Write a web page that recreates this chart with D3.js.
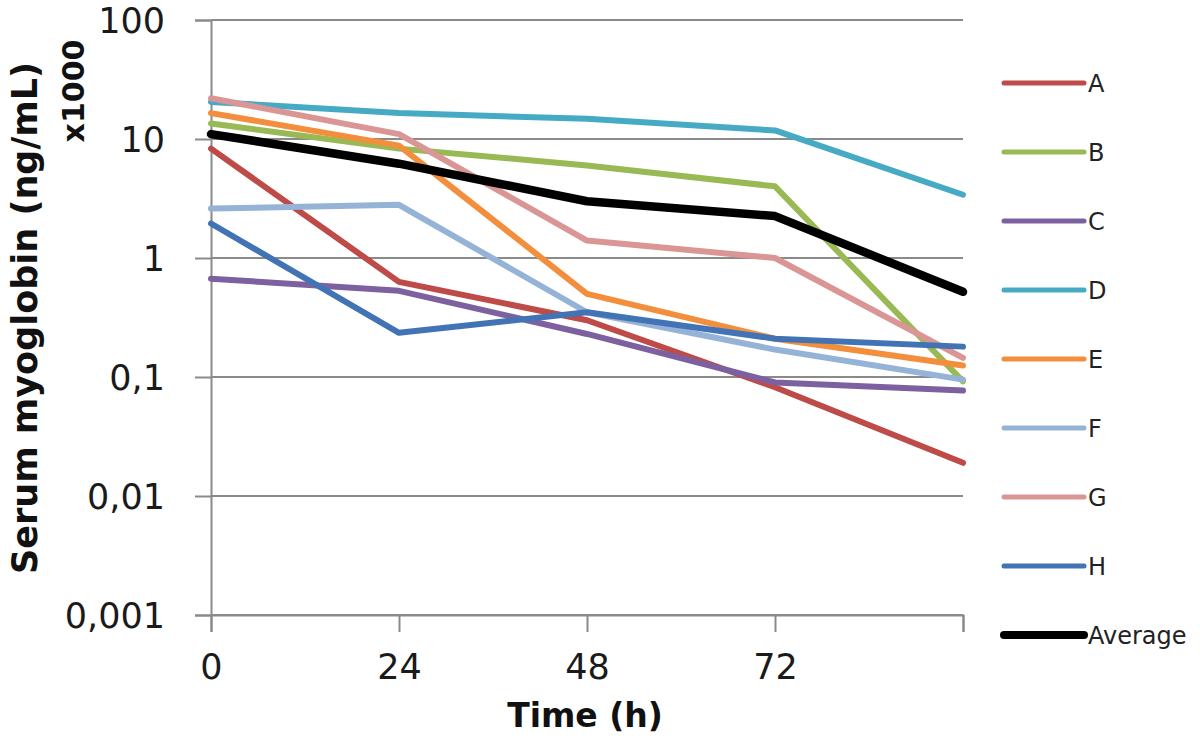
<!DOCTYPE html>
<html>
<head>
<meta charset="utf-8">
<script src="https://cdn.jsdelivr.net/npm/d3@7"></script>
<style>
  html, body { margin: 0; padding: 0; background: #fff; }
  svg { display: block; }
</style>
</head>
<body>
<svg id="chart" width="1200" height="742"></svg>
<script>
// ---- data ----
const times = [0, 24, 48, 72, 96];
const xTickValues = [0, 24, 48, 72];
const yTickValues = [100, 10, 1, 0.1, 0.01, 0.001];
const yTickLabels = ["100", "10", "1", "0,1", "0,01", "0,001"];

const seriesNames = ["A", "B", "C", "D", "E", "F", "G", "H", "Average"];
const seriesA = [8.3, 0.63, 0.30, 0.082, 0.019];
const seriesB = [13.5, 8.3, 6.0, 4.0, 0.092];
const seriesC = [0.67, 0.53, 0.23, 0.09, 0.077];
const seriesD = [20.5, 16.5, 14.8, 11.8, 3.4];
const seriesE = [16.5, 8.8, 0.5, 0.21, 0.125];
const seriesF = [2.6, 2.8, 0.35, 0.17, 0.095];
const seriesG = [22, 11, 1.4, 1.0, 0.145];
const seriesH = [1.95, 0.235, 0.35, 0.21, 0.18];
const seriesAverage = [11, 6.2, 3.0, 2.25, 0.52];
const seriesColors = ["#BE4B48", "#98B954", "#7D60A0", "#46AAC5", "#F38F3C", "#95B3D7", "#D99694", "#4274B5", "#000000"];

const xTitle = "Time (h)";
const yTitle1 = "Serum myoglobin (ng/mL)";
const yTitle2 = "x1000";

// ---- build ----
const allValues = [seriesA, seriesB, seriesC, seriesD, seriesE, seriesF, seriesG, seriesH, seriesAverage];
const series = seriesNames.map((n, i) => ({
  name: n, color: seriesColors[i],
  values: allValues[i].map((v, j) => ({ t: times[j], v: v }))
}));

const svg = d3.select("#chart");
const x = d3.scaleLinear().domain([0, 96]).range([211, 963]);
const y = d3.scaleLog().domain([0.001, 100]).range([615, 20]);
const gridColor = "#8a8a8a";

// gridlines
svg.append("g").selectAll("line").data(yTickValues).join("line")
  .attr("x1", x(0)).attr("x2", x(96))
  .attr("y1", d => y(d)).attr("y2", d => y(d))
  .attr("stroke", gridColor).attr("stroke-width", 2);

// y axis
const yAxis = d3.axisLeft(y).tickValues(yTickValues)
  .tickFormat((d, i) => yTickLabels[i]).tickSize(16).tickPadding(30);
const gy = svg.append("g").attr("transform", `translate(${x(0)},0)`).call(yAxis);
gy.select(".domain").attr("stroke", gridColor).attr("stroke-width", 2);
gy.selectAll(".tick line").attr("stroke", gridColor).attr("stroke-width", 2);
gy.selectAll(".tick text").attr("font-family", "DejaVu Sans").attr("font-size", 35)
  .attr("fill", "#1a1a1a").attr("dy", "0.36em");

// x axis
const xAxis = d3.axisBottom(x).tickValues([...xTickValues, 96])
  .tickFormat(d => xTickValues.includes(d) ? String(d) : "").tickSize(17).tickPadding(22);
const gx = svg.append("g").attr("transform", `translate(0,${y(0.001)})`).call(xAxis);
gx.select(".domain").attr("stroke", gridColor).attr("stroke-width", 2);
gx.selectAll(".tick line").attr("stroke", gridColor).attr("stroke-width", 2);
gx.selectAll(".tick text").attr("font-family", "DejaVu Sans").attr("font-size", 35)
  .attr("fill", "#1a1a1a").attr("dy", "0.71em");

// lines
const line = d3.line().x(d => x(d.t)).y(d => y(d.v));
svg.append("g").selectAll("path").data(series).join("path")
  .attr("d", d => line(d.values))
  .attr("fill", "none")
  .attr("stroke", d => d.color)
  .attr("stroke-width", d => d.name === "Average" ? 8.5 : 6)
  .attr("stroke-linejoin", "round")
  .attr("stroke-linecap", "round");

// legend
const legendY = d3.scalePoint().domain(seriesNames).range([83, 635]);
const lg = svg.append("g").selectAll("g").data(series).join("g")
  .attr("transform", d => `translate(0,${legendY(d.name)})`);
lg.append("line").attr("x1", 1004).attr("x2", 1084).attr("y1", 0).attr("y2", 0)
  .attr("stroke", d => d.color)
  .attr("stroke-width", d => d.name === "Average" ? 8 : 5)
  .attr("stroke-linecap", "round");
lg.append("text").attr("x", 1088).attr("y", 0).attr("dy", "0.36em")
  .attr("font-family", "DejaVu Sans").attr("font-size", 24).attr("fill", "#222")
  .text(d => d.name);

// axis titles
svg.append("text").attr("x", 585).attr("y", 727).attr("text-anchor", "middle")
  .attr("font-family", "DejaVu Sans").attr("font-weight", "bold").attr("font-size", 33)
  .attr("fill", "#111").text(xTitle);

svg.append("text").attr("transform", "translate(37,318) rotate(-90)")
  .attr("text-anchor", "middle")
  .attr("font-family", "DejaVu Sans").attr("font-weight", "bold").attr("font-size", 35)
  .attr("fill", "#111").text(yTitle1);
svg.append("text").attr("transform", "translate(84,91) rotate(-90)")
  .attr("text-anchor", "middle")
  .attr("font-family", "DejaVu Sans").attr("font-weight", "bold").attr("font-size", 30)
  .attr("fill", "#111").text(yTitle2);
</script>
</body>
</html>
